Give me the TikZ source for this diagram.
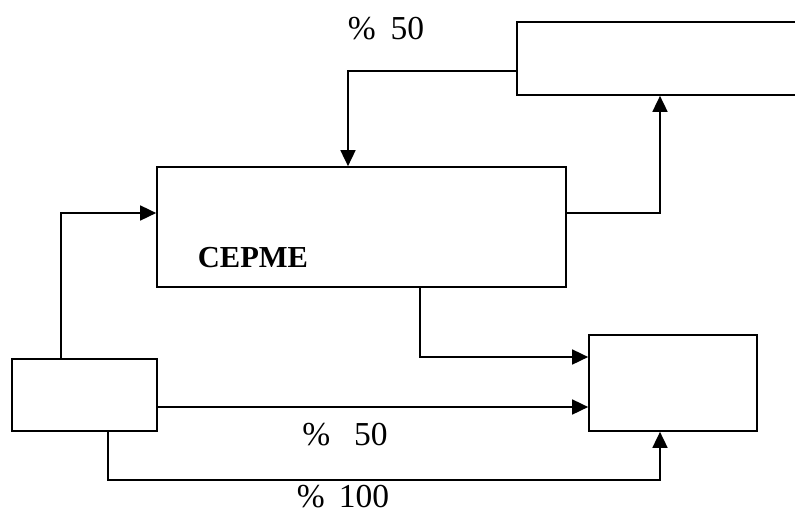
\documentclass[tikz,border=0pt]{standalone}
\usepackage{fontspec}
\setmainfont{Liberation Serif}
\usetikzlibrary{arrows.meta}
\begin{document}
\begin{tikzpicture}[x=1pt,y=-1pt,
  box/.style={draw,line width=1.7pt,rectangle,inner sep=0pt},
  conn/.style={line width=1.7pt},
  arr/.style={conn,-{Triangle[length=16pt,width=15pt]}},
  lbl/.style={inner sep=0pt,font=\fontsize{33.5}{36}\selectfont},
  bold/.style={inner sep=0pt,font=\fontsize{30.5}{33}\selectfont\bfseries}]
\useasboundingbox (0,0) rectangle (795,515);
\node[box,minimum width=280pt,minimum height=73pt] (tr) at (657,58.5) {};
\node[box,minimum width=409pt,minimum height=120pt] (mid) at (361.5,227) {};
\node[box,minimum width=145pt,minimum height=72pt] (bl) at (84.5,395) {};
\node[box,minimum width=168pt,minimum height=96pt] (br) at (673,383) {};
\node[bold] (cepme) at (253,258) {CEPME};
\node[lbl] (l1) at (386,29) {\%\hspace{15pt}50};
\node[lbl] (l2) at (345,435) {\%\hspace{24pt}50};
\node[lbl] (l3) at (343,497) {\%\hspace{14pt}100};
\coordinate (low) at (384,480);
\draw[arr] ([yshift=-12.5pt]tr.west) -| ([xshift=-13.5pt]mid.north);
\draw[arr] ([yshift=14pt]mid.east) -| ([xshift=3pt]tr.south);
\draw[arr] ([xshift=-23.5pt]bl.north) |- ([yshift=14pt]mid.west);
\draw[arr] ([xshift=58.5pt]mid.south) |- ([yshift=26pt]br.west);
\draw[arr] ([yshift=-12pt]bl.east) -- ([yshift=-24pt]br.west);
\draw[conn] ([xshift=23.5pt]bl.south) |- (low);
\draw[arr] (low) -| ([xshift=-13pt]br.south);
\end{tikzpicture}
\end{document}
